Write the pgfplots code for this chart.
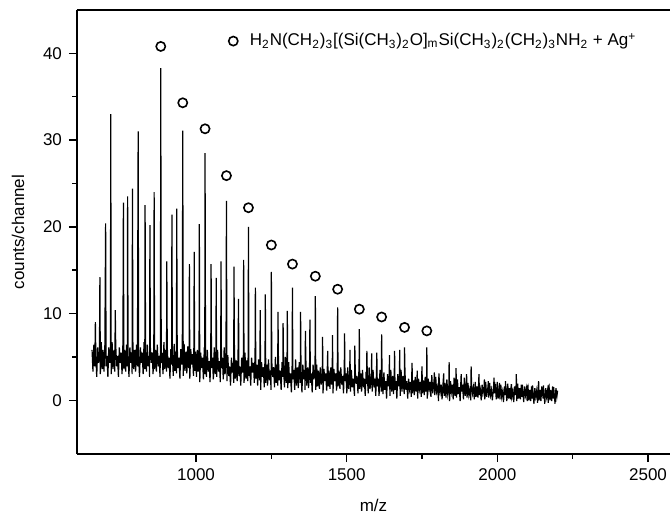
\documentclass[border=0pt]{standalone}
\usepackage{pgfplots}
\pgfplotsset{compat=1.18}
\usepackage{fontspec}
\setmainfont{Liberation Sans}
\begin{document}
\begin{tikzpicture}
\begin{axis}[
  scale only axis, width=296.5pt, height=222pt,
  xmin=605, xmax=2573, ymin=-6.2, ymax=45,
  axis x line*=bottom, axis y line*=left, axis line style={-, line width=0.9pt},
  xtick={1000,1500,2000,2500}, ytick={0,10,20,30,40},
  minor x tick num=1, minor y tick num=1,
  tick align=outside, major tick length=4pt, minor tick length=2.3pt,
  tick style={line width=0.7pt, black},
  /pgf/number format/assume math mode=true,
  /pgf/number format/set thousands separator={},
  tick label style={font=\fontsize{8.5}{10}\selectfont},
  label style={font=\fontsize{8.5}{10}\selectfont},
  xlabel={m/z}, ylabel={counts/channel},
  xlabel style={at={(rel axis cs:0.5,-0.1149)}, anchor=center},
  ylabel style={at={(rel axis cs:-0.0995,0.5)}, anchor=center},
  legend style={draw=none, fill=none, at={(0.245,0.93)}, anchor=west, font=\fontsize{8.5}{10}\selectfont},
  legend cell align=left,
  clip=false,
]
\addplot[black, line width=0.6pt, forget plot] coordinates {
(655,5.8) (658,3.3) (661,6.4) (664,3.9)
(666,9.0) (667.5,5.1) (670.5,2.7) (673.5,6.1) (676.5,4.3) (679.5,5.5)
(681,14.2) (682.5,3.0) (685.5,6.7) (688.5,3.6) (691.5,5.8) (694.5,3.3) (697.5,6.4)
(700,20.4) (701.5,3.9) (704.5,5.1) (707.5,2.7) (710.5,6.1) (713.5,4.3) (716,5.5)
(717,33.0) (718.5,3.0) (721.5,6.7) (724.5,3.6) (727.5,5.8) (730.5,3.3)
(732,10.4) (733.5,6.4) (736.5,3.9) (739.5,5.1) (742.5,2.7) (745.5,6.1) (748.5,4.3) (751.5,5.5) (754.5,3.0) (757.5,6.7)
(759,22.8) (760.5,3.6) (763.5,5.8) (766.5,3.3) (769.5,6.4) (772,3.9)
(773,23.5) (774.5,5.1) (777.5,2.7) (780.5,6.1) (783.5,4.3) (786.5,5.5) (788,3.0)
(789,24.4) (790.5,6.7) (793.5,3.6) (796.5,5.8) (799.5,3.3) (802.5,6.4) (805.5,3.9)
(808,31.0) (809.5,5.1) (812.5,2.7) (815.5,6.1) (818.5,4.3) (821.5,5.5) (824.5,3.0) (827.5,6.7) (830,3.6)
(831,22.5) (832.5,5.8) (835.5,3.3) (838.5,6.4) (841.5,3.9) (844.5,5.1) (846,2.7)
(847,20.2) (848.5,6.1) (851.5,4.3) (854.5,5.5) (857.5,3.0) (860,6.7)
(861,24.0) (862.5,3.6) (865.5,5.8) (868.5,3.3) (871.5,6.4) (874.5,3.9) (877.5,5.1) (880.5,2.7) (882,6.1)
(883,38.3) (884.5,4.3) (887.5,5.5) (890.5,3.0) (893.5,6.7) (896.5,3.6) (899.5,5.8) (902,3.3)
(903,16.0) (904.5,6.2) (907.5,3.7) (910.5,4.9) (913.5,2.5) (916.5,5.9) (919,4.1)
(920,21.4) (921.5,5.3) (924.5,2.8) (927.5,6.5) (930.5,3.4) (933.5,5.6) (935,3.1)
(936,22.1) (937.5,6.2) (940.5,3.7) (943.5,4.9) (946.5,2.5) (949.5,5.9) (952.5,4.1) (954.5,5.3)
(956,31.1) (957.5,2.8) (960.5,6.5) (963.5,3.4) (966.5,5.6) (969.5,3.1) (972.5,6.2) (975.5,3.7) (977,4.9)
(978,15.7) (979.5,2.5) (982.5,5.9) (985.5,4.1) (988.5,5.3) (991.5,2.8) (993,6.5)
(994,17.1) (995.5,3.4) (998.5,5.6) (1001.5,2.7) (1004.5,5.8) (1007.5,3.3) (1010,4.5)
(1011,20.3) (1012.5,2.1) (1015.5,5.5) (1018.5,3.7) (1021.5,4.9) (1024.5,2.4) (1027.5,6.1) (1029,3.0)
(1030,28.5) (1031.5,5.2) (1034.5,2.7) (1037.5,5.8) (1040.5,3.3) (1043.5,4.5) (1046.5,2.1) (1049,5.5)
(1050,15.7) (1051.5,3.7) (1054.5,4.9) (1057.5,2.4) (1060.5,6.1) (1063.5,3.0) (1066,5.2)
(1067,14.1) (1068.5,2.7) (1071.5,5.8) (1074.5,3.3) (1077.5,4.5) (1080.5,2.1) (1082,5.5)
(1083,16.0) (1084.5,3.7) (1087.5,4.9) (1090.5,2.4) (1093.5,6.1) (1096.5,3.0) (1099.5,5.2)
(1101,23.0) (1102.5,2.2) (1105.5,5.2) (1108.5,2.8) (1111.5,3.9) (1114.5,1.7) (1117.5,4.9) (1120.5,3.2) (1123.5,4.3) (1125,2.0)
(1126,15.4) (1127.5,5.5) (1130.5,2.5) (1133.5,4.6) (1136.5,2.2) (1139.5,5.2)
(1141,11.7) (1142.5,2.8) (1145.5,3.9) (1148.5,1.7) (1151.5,4.9) (1154.5,3.2) (1157,4.3)
(1158,16.2) (1159.5,2.0) (1162.5,5.5) (1165.5,2.5) (1168.5,4.6) (1171.5,2.2) (1173,5.2)
(1174,20.0) (1175.5,2.8) (1178.5,3.9) (1181.5,1.7) (1184.5,4.9) (1187.5,3.2) (1190.5,4.3) (1193.5,2.0) (1196,5.5)
(1197,13.0) (1198.5,2.5) (1201.5,4.1) (1204.5,1.7) (1207.5,4.7) (1210.5,2.3) (1212,3.4)
(1213,10.4) (1214.5,1.2) (1217.5,4.4) (1220.5,2.7) (1223.5,3.8) (1226.5,1.5) (1229,5.0)
(1230,12.2) (1231.5,2.0) (1234.5,4.1) (1237.5,1.7) (1240.5,4.7) (1243.5,2.3) (1246.5,3.4) (1249,1.2)
(1250,14.8) (1251.5,4.4) (1254.5,2.7) (1257.5,3.8) (1260.5,1.5) (1263.5,5.0) (1266.5,2.0) (1269.5,4.1) (1271,1.7)
(1272,10.2) (1273.5,4.7) (1276.5,2.3) (1279.5,3.4) (1282.5,1.2) (1285.5,4.4) (1288,2.7)
(1289,8.9) (1290.5,3.8) (1293.5,1.5) (1296.5,5.0) (1299.5,2.0) (1302,3.8)
(1303,10.3) (1304.5,1.4) (1307.5,4.4) (1310.5,2.0) (1313.5,3.1) (1316.5,0.9) (1319,4.1)
(1320,13.0) (1321.5,2.4) (1324.5,3.5) (1327.5,1.2) (1330.5,4.7) (1333.5,1.7) (1336.5,3.8) (1339.5,1.4) (1342.5,4.4) (1346,2.0)
(1347,10.2) (1348.5,3.1) (1351.5,0.9) (1354.5,4.1) (1357.5,2.4) (1360.5,3.5) (1362,1.2)
(1363,8.0) (1364.5,4.7) (1367.5,1.7) (1370.5,3.8) (1373.5,1.4) (1377,4.4)
(1378,9.3) (1379.5,2.0) (1382.5,3.1) (1385.5,0.9) (1388.5,4.1) (1391.5,2.4) (1395,3.5)
(1396,12.0) (1397.5,1.2) (1400.5,4.1) (1403.5,1.6) (1406.5,3.4) (1409.5,1.3) (1412.5,3.8) (1415.5,1.8) (1419,2.8)
(1420,7.3) (1421.5,0.8) (1424.5,3.6) (1427.5,2.2) (1430.5,3.1) (1433.5,1.1) (1436,4.1)
(1437,5.7) (1438.5,1.6) (1441.5,3.4) (1444.5,1.3) (1447.5,3.8) (1450.5,1.8) (1452,2.8)
(1453,7.5) (1454.5,0.8) (1457.5,3.6) (1460.5,2.2) (1463.5,3.1) (1466.5,1.1) (1469,4.1)
(1470,10.7) (1471.5,1.6) (1474.5,3.4) (1477.5,1.3) (1480.5,3.8) (1483.5,1.8) (1486.5,2.8) (1489.5,0.8) (1492,3.6)
(1493,7.7) (1494.5,2.2) (1497.5,3.1) (1500.5,0.8) (1503.5,3.8) (1506.5,1.3) (1510,3.1)
(1511,5.8) (1512.5,1.0) (1515.5,3.5) (1518.5,1.5) (1521.5,2.5) (1526,0.5)
(1527,6.3) (1528.5,3.3) (1531.5,1.9) (1534.5,2.8) (1537.5,0.8) (1541,3.8)
(1542,8.2) (1543.5,1.3) (1546.5,3.1) (1549.5,1.0) (1552.5,3.5) (1555.5,1.5) (1558.5,2.5) (1561.5,0.5) (1564.5,3.3) (1566,1.9)
(1567,5.7) (1568.5,2.8) (1571.5,0.8) (1574.5,3.8) (1577.5,1.3) (1582,3.1)
(1583,5.4) (1584.5,1.0) (1587.5,3.5) (1590.5,1.5) (1593.5,2.5) (1596.5,0.5) (1599,3.3)
(1600,5.5) (1601.5,1.6) (1604.5,2.5) (1607.5,0.5) (1610.5,3.5) (1615,1.0)
(1616,7.6) (1617.5,2.8) (1620.5,0.7) (1623.5,3.2) (1626.5,1.2) (1629.5,2.2) (1632.5,0.2) (1635.5,3.0) (1638.5,1.6) (1641,2.5)
(1642,5.2) (1643.5,0.5) (1646.5,3.5) (1649.5,1.0) (1652.5,2.8) (1655.5,0.7) (1658,3.2)
(1659,5.7) (1660.5,1.2) (1663.5,2.2) (1666.5,0.2) (1669.5,3.0) (1672.5,1.6) (1675,2.5)
(1676,5.8) (1677.5,0.5) (1680.5,3.5) (1683.5,1.0) (1686.5,2.8) (1691,0.7)
(1692,6.1) (1693.5,3.2) (1696.5,1.2) (1699.5,2.2) (1702.5,0.2) (1705.5,2.5) (1708.5,1.3) (1711.5,2.1) (1714.5,0.4) (1716,2.9)
(1717,4.3) (1718.5,0.8) (1721.5,2.3) (1724.5,0.6) (1727.5,2.7) (1730.5,1.0) (1733,1.8)
(1734,3.4) (1735.5,0.2) (1738.5,2.5) (1741.5,1.3) (1744.5,2.1) (1747.5,0.4) (1749,2.9)
(1750,3.9) (1751.5,0.8) (1754.5,2.3) (1757.5,0.6) (1760.5,2.7) (1763.5,1.0) (1765,1.8)
(1766,6.1) (1767.5,0.2) (1770.5,2.5) (1773.5,1.3) (1776.5,2.1) (1779.5,0.4) (1782.5,2.9) (1785.5,0.8) (1790,2.3)
(1791,3.2) (1792.5,0.6) (1795.5,2.7) (1798.5,1.0) (1801.5,1.5) (1805,-0.1)
(1806,3.1) (1807.5,2.2) (1810.5,1.0) (1813.5,1.8) (1816.5,0.1) (1821,2.6)
(1822,3.1) (1823.5,0.5) (1826.5,2.0) (1829.5,0.3) (1832.5,2.4) (1835.5,0.7) (1839,1.5)
(1840,4.4) (1841.5,-0.1) (1844.5,2.2) (1847.5,1.0) (1850.5,1.8) (1853.5,0.1) (1856.5,2.6) (1859.5,0.5) (1862,2.0)
(1863,3.7) (1864.5,0.3) (1867.5,2.4) (1870.5,0.7) (1873.5,1.5) (1876.5,-0.1) (1879,2.2)
(1880,3.0) (1881.5,1.0) (1884.5,1.8) (1887.5,0.1) (1890.5,2.6) (1893.5,0.5) (1897,2.0)
(1898,3.0) (1899.5,0.3) (1902.5,2.0) (1905.5,0.6) (1908.5,1.2) (1912,0.0)
(1913,3.9) (1914.5,1.8) (1917.5,0.8) (1920.5,1.5) (1923.5,0.1) (1926.5,2.1) (1929.5,0.4) (1932.5,1.6) (1935.5,0.3) (1938,2.0)
(1939,3.0) (1940.5,0.6) (1943.5,1.2) (1946.5,0.0) (1949.5,1.8) (1952.5,0.8) (1956,1.5)
(1957,2.4) (1958.5,0.1) (1961.5,2.1) (1964.5,0.4) (1969,1.6)
(1970,2.2) (1971.5,0.3) (1974.5,2.0) (1977.5,0.6) (1980.5,1.2) (1983.5,0.0) (1988,1.8)
(1989,2.6) (1990.5,0.8) (1993.5,1.5) (1996.5,0.1) (1999.5,2.1) (2002.5,0.2) (2006,1.4)
(2007,2.0) (2008.5,0.1) (2011.5,1.8) (2014.5,0.4) (2017.5,1.0) (2020.5,-0.2) (2023.5,1.6) (2026,0.6)
(2027,2.2) (2028.5,1.3) (2031.5,-0.1) (2034.5,1.9) (2037.5,0.2) (2040.5,1.4) (2043.5,0.1) (2046,1.8)
(2047,1.8) (2048.5,0.4) (2051.5,1.0) (2054.5,-0.2) (2057.5,1.6) (2060.5,0.6) (2062,1.3)
(2063,3.0) (2064.5,-0.1) (2067.5,1.9) (2070.5,0.2) (2073.5,1.4) (2076.5,0.1) (2079.5,1.8) (2082,0.4)
(2083,1.8) (2084.5,1.0) (2087.5,-0.2) (2090.5,1.6) (2093.5,0.6) (2096.5,1.3) (2099,-0.1)
(2100,1.6) (2101.5,1.7) (2104.5,0.0) (2107.5,1.2) (2110.5,-0.1) (2113.5,1.6) (2116,0.2)
(2117,1.7) (2118.5,0.8) (2121.5,-0.4) (2124.5,1.4) (2127.5,0.4) (2130.5,1.1) (2133.5,-0.3) (2136,1.7)
(2137,2.2) (2138.5,0.0) (2141.5,1.2) (2144.5,-0.1) (2147.5,1.6) (2152,0.2)
(2153,1.7) (2154.5,0.8) (2157.5,-0.4) (2160.5,1.4) (2163.5,0.4) (2166.5,1.1) (2169,-0.3)
(2170,1.6) (2171.5,1.7) (2174.5,0.0) (2177.5,1.2) (2180.5,-0.1) (2183.5,1.6) (2186,0.2)
(2187,1.5) (2188.5,0.8) (2191.5,-0.4) (2194.5,1.4) (2197.5,0.4) (2200,1.1)
};
\addplot[black, only marks, mark=o, mark size=2.3pt, line width=0.8pt] coordinates {
(883,40.8) (956,34.3) (1030,31.3) (1101,25.9) (1174,22.2) (1250,17.9) (1320,15.7)
(1396,14.3) (1470,12.8) (1542,10.5) (1616,9.6) (1692,8.4) (1766,8.0)
};
\addlegendentry{\hspace{4pt}H\textsubscript{2}N(CH\textsubscript{2})\textsubscript{3}[(Si(CH\textsubscript{3})\textsubscript{2}O]\textsubscript{m}Si(CH\textsubscript{3})\textsubscript{2}(CH\textsubscript{2})\textsubscript{3}NH\textsubscript{2} + Ag\textsuperscript{+}}
\draw[line width=0.9pt] (rel axis cs:0,1) -- (rel axis cs:1,1);
\coordinate (sw) at (rel axis cs:0,0);
\coordinate (ne) at (rel axis cs:1,1);
\end{axis}
\pgfresetboundingbox
\path ([xshift=-38.5pt,yshift=-33.5pt]sw) rectangle ([yshift=5pt]ne);
\end{tikzpicture}
\end{document}
